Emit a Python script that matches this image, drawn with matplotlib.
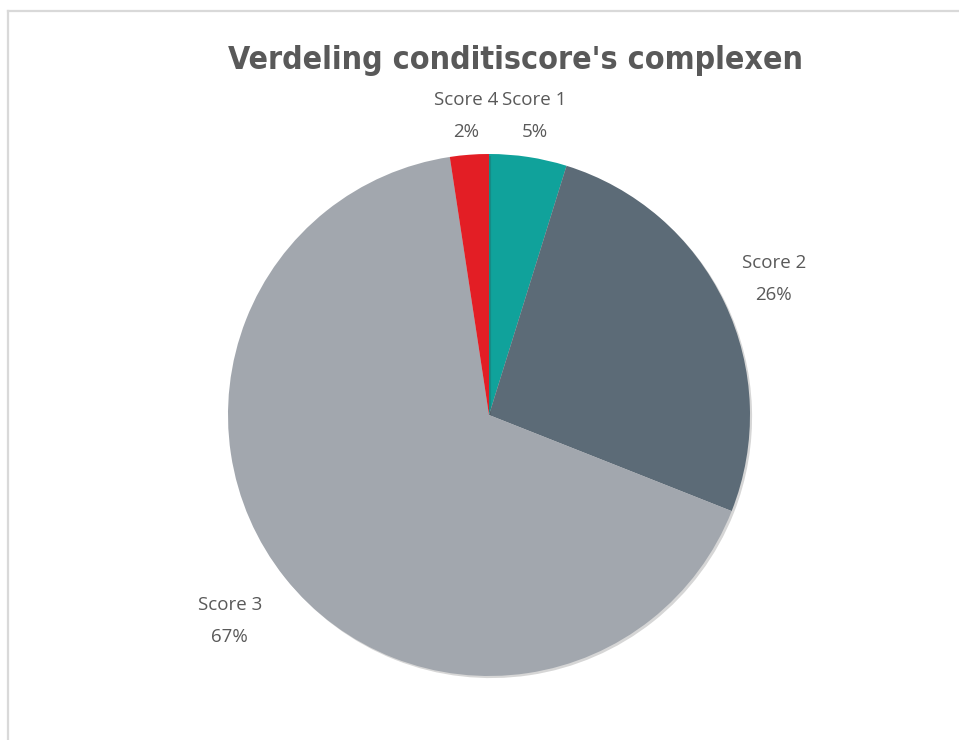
import numpy as np
import matplotlib
matplotlib.use("Agg")
import matplotlib.pyplot as plt
import matplotlib.patheffects as pe
from matplotlib.lines import Line2D

# ── Data ────────────────────────────────────────────────────────────────
categories = ["Score 1", "Score 2", "Score 3", "Score 4"]
shares     = [4.8, 26.2, 66.6, 2.4]
colors     = ["#10A29B", "#5C6B77", "#A2A7AE", "#E31E25"]
label_dist = [1.16, 1.21, 1.27, 1.15]   # per-label distance (best-fit style)

TITLE = "Verdeling conditiscore's complexen"
TEXT_GREY = "#595959"

fig = plt.figure(figsize=(9.59, 7.40), dpi=100)
fig.patch.set_facecolor("white")

# chart-area frame (left and top edges visible in the crop)
fig.add_artist(Line2D([7.5 / 959, 7.5 / 959], [0, 1 - 11 / 740],
                      color="#D9D9D9", lw=1.6))
fig.add_artist(Line2D([7.5 / 959, 1], [1 - 11 / 740, 1 - 11 / 740],
                      color="#D9D9D9", lw=1.6))

# pie axes: centre ~(489, 415) px, radius ~261 px
ax = fig.add_axes([(489 - 261) / 959, (325 - 261) / 740, 522 / 959, 522 / 740])
wedges, _ = ax.pie(shares, colors=colors, startangle=90, counterclock=False,
                   radius=1.0, wedgeprops=dict(linewidth=0))
for w in wedges:
    w.set_path_effects([pe.SimplePatchShadow(offset=(1.5, -1.5), alpha=0.2,
                                             shadow_rgbFace="#333333"),
                        pe.Normal()])
ax.set_xlim(-1, 1)
ax.set_ylim(-1, 1)
ax.set_aspect("auto")
ax.axis("off")

# data labels: category + percentage
for w, name, val, d in zip(wedges, categories, shares, label_dist):
    mid = np.deg2rad((w.theta1 + w.theta2) / 2)
    ax.text(d * np.cos(mid), d * np.sin(mid), f"{name}\n{val:.0f}%",
            ha="center", va="center", fontsize=13.5, color=TEXT_GREY,
            linespacing=2.0, family="Open Sans")

fig.text(516 / 959, 1 - 61 / 740, TITLE, ha="center", va="center",
         fontsize=23, fontweight="bold", fontstretch="condensed",
         color=TEXT_GREY,
         family=["DejaVu Sans Condensed", "DejaVu Sans"])

plt.savefig("out.png", dpi=100)
plt.close()
